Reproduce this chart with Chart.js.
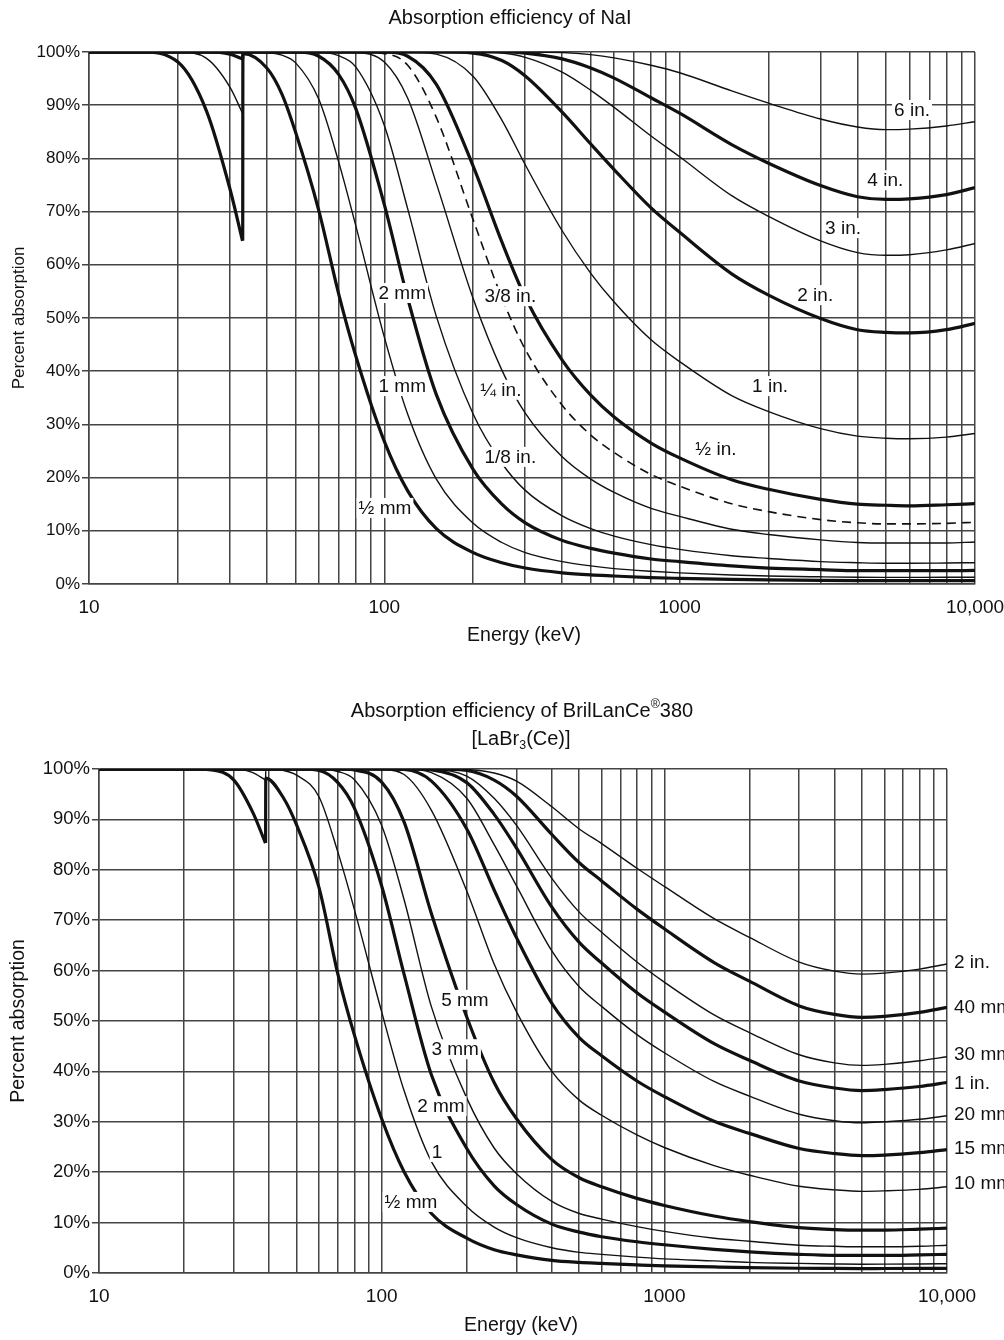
<!DOCTYPE html>
<html>
<head>
<meta charset="utf-8">
<title>Absorption efficiency of NaI and LaBr3(Ce)</title>
<script src="https://cdn.jsdelivr.net/npm/chart.js@4.4.1/dist/chart.umd.min.js"></script>
<style>
    html, body { margin: 0; padding: 0; background: #fff; }
    #wrap { position: relative; width: 1004px; height: 1340px; overflow: hidden; }
    #wrap canvas { position: absolute; left: 0; }
    #naiChart { top: 0; }
    #labrChart { top: 660px; }
</style>
</head>
<body>
<div id="wrap">
    <canvas id="naiChart" width="1004" height="660"></canvas>
    <canvas id="labrChart" width="1004" height="680"></canvas>
</div>
<script>
// Grid / tick values shared by both panels
const energyTicks = [10, 20, 30, 40, 50, 60, 70, 80, 90,
    100, 200, 300, 400, 500, 600, 700, 800, 900,
    1000, 2000, 3000, 4000, 5000, 6000, 7000, 8000, 9000, 10000];
const energyTickLabels = { 10: '10', 100: '100', 1000: '1000', 10000: '10,000' };

// ---- NaI panel: energies (keV) and percent absorption per thickness ----
// null marks the break at the iodine K-edge (33.2 keV)
const naiEnergy = [10, 15, 20, 25, 30, 33.1, 33.14, 33.15,
    33.2, 40, 45, 50, 60, 70, 80,
    100, 120, 150, 200, 250, 300, 400, 500, 600,
    800, 1000, 1500, 2000, 3000, 4000, 5000, 6000, 8000, 10000];

const naiHalfMm = [100, 100, 98.1, 88.9, 74.3, 64.5, null, 64.5,
    99.7, 97.0, 92.1, 85.0, 70.2, 54.6, 42.9,
    26.8, 17.5, 10.4, 5.9, 4.0, 3.0, 2.1, 1.7, 1.5,
    1.2, 1.06, 0.86, 0.77, 0.68, 0.64, 0.63, 0.63, 0.63, 0.64];
const naiOneMm = [100, 100, 100, 98.8, 93.4, 88.5, null, 88.5,
    100, 99.9, 99.4, 98.0, 91.1, 79.4, 67.4,
    46.4, 31.9, 19.7, 11.4, 7.8, 5.9, 4.2, 3.4, 2.9,
    2.4, 2.1, 1.7, 1.5, 1.35, 1.27, 1.25, 1.25, 1.26, 1.28];
const naiTwoMm = [100, 100, 100, 100, 99.6, 98.7, null, 98.7,
    100, 100, 100, 100, 99.2, 95.8, 89.4,
    71.3, 53.7, 35.6, 21.5, 15.0, 11.5, 8.2, 6.7, 5.8,
    4.7, 4.2, 3.4, 3.0, 2.7, 2.5, 2.5, 2.5, 2.5, 2.55];
const naiEighthIn = [100, 100, 100, 100, 100, 100, null, 100,
    100, 100, 100, 100, 100, 99.3, 97.2,
    86.2, 70.5, 50.3, 31.9, 22.7, 17.6, 12.8, 10.4, 9.0,
    7.4, 6.5, 5.3, 4.8, 4.2, 4.0, 3.9, 3.9, 3.95, 4.0];
const naiQuarterIn = [100, 100, 100, 100, 100, 100, null, 100,
    100, 100, 100, 100, 100, 100, 99.9,
    98.1, 91.3, 75.3, 53.6, 40.2, 32.1, 23.9, 19.7, 17.2,
    14.2, 12.7, 10.3, 9.3, 8.3, 7.8, 7.7, 7.7, 7.7, 7.9];
const naiThreeEighthIn = [100, 100, 100, 100, 100, 100, null, 100,
    100, 100, 100, 100, 100, 100, 100,
    99.7, 97.5, 87.7, 68.4, 53.8, 44.1, 33.6, 28.0, 24.7,
    20.6, 18.4, 15.1, 13.6, 12.1, 11.5, 11.3, 11.3, 11.4, 11.6];
const naiHalfIn = [100, 100, 100, 100, 100, 100, null, 100,
    100, 100, 100, 100, 100, 100, 100,
    100, 99.2, 93.9, 78.5, 64.3, 53.9, 42.1, 35.5, 31.4,
    26.5, 23.7, 19.6, 17.8, 15.9, 15.0, 14.8, 14.7, 14.9, 15.1];
const naiOneIn = [100, 100, 100, 100, 100, 100, null, 100,
    100, 100, 100, 100, 100, 100, 100,
    100, 100, 99.6, 95.4, 87.2, 78.8, 66.4, 58.4, 53.0,
    45.9, 41.8, 35.4, 32.4, 29.2, 27.8, 27.4, 27.3, 27.6, 28.3];
const naiTwoIn = [100, 100, 100, 100, 100, 100, null, 100,
    100, 100, 100, 100, 100, 100, 100,
    100, 100, 100, 99.8, 98.4, 95.5, 88.7, 82.7, 77.9,
    70.7, 66.1, 58.3, 54.3, 49.9, 47.8, 47.3, 47.2, 47.8, 49.0];
const naiThreeIn = [100, 100, 100, 100, 100, 100, null, 100,
    100, 100, 100, 100, 100, 100, 100,
    100, 100, 100, 100, 99.8, 99.0, 96.2, 92.8, 89.6,
    84.2, 80.3, 73.0, 69.1, 64.5, 62.3, 61.8, 61.9, 62.8, 64.0];
const naiFourIn = [100, 100, 100, 100, 100, 100, null, 100,
    100, 100, 100, 100, 100, 100, 100,
    100, 100, 100, 100, 100, 99.8, 98.7, 97.0, 95.1,
    91.4, 88.5, 82.6, 79.1, 74.9, 72.8, 72.3, 72.4, 73.2, 74.5];
const naiSixIn = [100, 100, 100, 100, 100, 100, null, 100,
    100, 100, 100, 100, 100, 100, 100,
    100, 100, 100, 100, 100, 100, 99.9, 99.5, 98.9,
    97.5, 96.1, 92.7, 90.4, 87.4, 85.9, 85.4, 85.5, 86.1, 86.9];

// ---- LaBr3(Ce) panel, break at the La K-edge (38.9 keV) ----
const labrEnergy = [10, 20, 25, 30, 35, 38.8, 38.84, 38.85,
    38.9, 45, 50, 60, 70, 80,
    100, 120, 150, 200, 250, 300, 400, 500, 600,
    800, 1000, 1500, 2000, 3000, 4000, 5000, 6000, 8000, 10000];

const labrHalfMm = [100, 100, 99.8, 97.8, 91.4, 85.3, null, 85.3,
    98.2, 94.2, 88.9, 76.5, 59.3, 47.3,
    30.6, 20.1, 11.8, 6.9, 4.6, 3.6, 2.5, 2.1, 1.9,
    1.6, 1.4, 1.2, 1.07, 0.94, 0.9, 0.88, 0.89, 0.9, 0.93];
const labrOneMm = [100, 100, 100, 100, 99.3, 97.8, null, 97.8,
    100, 99.7, 98.8, 94.5, 83.5, 72.2,
    51.8, 36.2, 22.1, 13.2, 9.1, 7.0, 5.0, 4.1, 3.7,
    3.15, 2.8, 2.4, 2.1, 1.9, 1.8, 1.75, 1.76, 1.8, 1.85];
const labrTwoMm = [100, 100, 100, 100, 100, 100, null, 100,
    100, 100, 100, 99.7, 97.3, 92.3,
    76.8, 59.3, 39.3, 24.7, 17.3, 13.6, 9.7, 8.1, 7.2,
    6.2, 5.6, 4.7, 4.2, 3.7, 3.5, 3.5, 3.5, 3.6, 3.7];
const labrThreeMm = [100, 100, 100, 100, 100, 100, null, 100,
    100, 100, 100, 100, 99.5, 97.9,
    88.8, 74.1, 52.8, 34.7, 24.8, 19.7, 14.2, 11.8, 10.7,
    9.2, 8.25, 6.9, 6.3, 5.5, 5.3, 5.2, 5.2, 5.3, 5.5];
const labrFiveMm = [100, 100, 100, 100, 100, 100, null, 100,
    100, 100, 100, 100, 100, 99.8,
    97.4, 89.5, 71.3, 50.8, 37.8, 30.6, 22.5, 18.9, 17.1,
    14.8, 13.4, 11.3, 10.2, 9.0, 8.6, 8.5, 8.5, 8.7, 8.9];
const labrTenMm = [100, 100, 100, 100, 100, 100, null, 100,
    100, 100, 100, 100, 100, 100,
    99.9, 98.9, 91.8, 75.8, 61.3, 51.8, 40.0, 34.3, 31.3,
    27.4, 24.9, 21.3, 19.4, 17.2, 16.5, 16.2, 16.3, 16.6, 17.1];
const labrFifteenMm = [100, 100, 100, 100, 100, 100, null, 100,
    100, 100, 100, 100, 100, 100,
    100, 99.9, 97.6, 88.1, 76.0, 66.5, 53.5, 46.7, 43.1,
    38.1, 35.0, 30.1, 27.7, 24.7, 23.7, 23.3, 23.4, 23.9, 24.5];
const labrTwentyMm = [100, 100, 100, 100, 100, 100, null, 100,
    100, 100, 100, 100, 100, 100,
    100, 100, 99.3, 94.2, 85.0, 76.8, 63.9, 56.8, 52.9,
    47.3, 43.7, 38.0, 35.1, 31.5, 30.2, 29.8, 30.0, 30.5, 31.2];
const labrOneIn = [100, 100, 100, 100, 100, 100, null, 100,
    100, 100, 100, 100, 100, 100,
    100, 100, 99.8, 97.3, 91.0, 84.3, 72.6, 65.6, 61.5,
    55.6, 51.8, 45.5, 42.2, 38.1, 36.7, 36.2, 36.4, 37.0, 37.8];
const labrThirtyMm = [100, 100, 100, 100, 100, 100, null, 100,
    100, 100, 100, 100, 100, 100,
    100, 100, 99.9, 98.6, 94.2, 88.8, 78.3, 71.6, 67.6,
    61.7, 57.7, 51.2, 47.7, 43.3, 41.7, 41.2, 41.4, 42.1, 42.9];
const labrFortyMm = [100, 100, 100, 100, 100, 100, null, 100,
    100, 100, 100, 100, 100, 100,
    100, 100, 100, 99.7, 97.8, 94.6, 87.0, 81.4, 77.8,
    72.2, 68.3, 61.6, 57.9, 53.0, 51.3, 50.7, 50.9, 51.7, 52.7];
const labrTwoIn = [100, 100, 100, 100, 100, 100, null, 100,
    100, 100, 100, 100, 100, 100,
    100, 100, 100, 99.9, 99.2, 97.6, 92.5, 88.1, 85.2,
    80.3, 76.7, 70.3, 66.6, 61.7, 59.9, 59.3, 59.5, 60.3, 61.3];

const INK = '#111';
const GRID = '#444';
const FAMILY = '"Liberation Sans", Arial, Helvetica, sans-serif';

function makeSeries(energy, values, label, style) {
    return {
        label: label,
        data: energy.map((e, i) => ({ x: e, y: values[i] })),
        borderColor: INK,
        borderWidth: style === 'thick' ? 3.2 : (style === 'dashed' ? 1.6 : 1.4),
        borderDash: style === 'dashed' ? [9, 6] : [],
        pointRadius: 0,
        fill: false,
        spanGaps: false,
        cubicInterpolationMode: 'monotone'
    };
}

// text with optional superscript / subscript pieces, centred on cx
function drawRich(ctx, parts, cx, cy, size) {
    const small = size * 0.62;
    const widths = parts.map(([t, mode]) => {
        ctx.font = (mode ? small : size) + 'px ' + FAMILY;
        return ctx.measureText(t).width;
    });
    let x = cx - widths.reduce((a, b) => a + b, 0) / 2;
    parts.forEach(([t, mode], i) => {
        ctx.font = (mode ? small : size) + 'px ' + FAMILY;
        const dy = mode === 'sup' ? -size * 0.33 : (mode === 'sub' ? size * 0.32 : 0);
        ctx.fillText(t, x, cy + dy);
        x += widths[i];
    });
}

function makeTextPlugin(texts) {
    return {
        id: 'paperText',
        afterDatasetsDraw(chart) {
            const ctx = chart.ctx;
            const xs = chart.scales.x;
            const ys = chart.scales.y;
            const half = Math.round(texts.labelSize / 2);
            ctx.save();
            ctx.textBaseline = 'middle';
            ctx.font = texts.labelSize + 'px ' + FAMILY;

            // labels sitting on the curves, with a white box that breaks the lines
            texts.curveLabels.forEach(lab => {
                const x = xs.getPixelForValue(lab.e);
                const y = ys.getPixelForValue(lab.p);
                const w = ctx.measureText(lab.text).width;
                ctx.fillStyle = '#fff';
                ctx.fillRect(x - w / 2 - 2, y - half, w + 4, half * 2);
                ctx.fillStyle = INK;
                ctx.textAlign = 'center';
                ctx.fillText(lab.text, x, y + 1);
            });

            // labels right of the plot
            ctx.textAlign = 'left';
            ctx.fillStyle = INK;
            (texts.sideLabels || []).forEach(lab => {
                ctx.fillText(lab.text, chart.chartArea.right + 7, ys.getPixelForValue(lab.p) + 1);
            });

            texts.titles.forEach(line => drawRich(ctx, line.parts, line.x, line.y, texts.titleSize));

            ctx.textAlign = 'center';
            ctx.font = texts.xTitleSize + 'px ' + FAMILY;
            ctx.fillText('Energy (keV)', texts.xTitle.x, texts.xTitle.y);
            ctx.font = texts.yTitleSize + 'px ' + FAMILY;
            ctx.translate(texts.yTitle.x, texts.yTitle.y);
            ctx.rotate(-Math.PI / 2);
            ctx.fillText('Percent absorption', 0, 0);
            ctx.restore();
        }
    };
}

function buildChart(canvasId, frame, datasets, texts) {
    const canvas = document.getElementById(canvasId);
    const W = canvas.width;
    const H = canvas.height;
    return new Chart(canvas.getContext('2d'), {
        type: 'line',
        data: { datasets: datasets },
        options: {
            responsive: false,
            animation: false,
            layout: { padding: { left: 0, top: frame.top, right: W - frame.right, bottom: 0 } },
            plugins: {
                legend: { display: false },
                tooltip: { enabled: false }
            },
            scales: {
                x: {
                    type: 'logarithmic',
                    min: 10,
                    max: 10000,
                    afterBuildTicks: axis => { axis.ticks = energyTicks.map(v => ({ value: v })); },
                    afterFit: axis => {
                        axis.height = H - frame.bottom;
                        axis.paddingLeft = 0;
                        axis.paddingRight = 0;
                    },
                    ticks: {
                        autoSkip: false,
                        maxRotation: 0,
                        padding: texts.xTickPad,
                        color: INK,
                        font: { family: FAMILY, size: texts.xTickSize },
                        callback: v => energyTickLabels[Math.round(v)] || ''
                    },
                    grid: { color: GRID, lineWidth: 1.5, drawTicks: false },
                    border: { display: true, color: GRID, width: 1.5 }
                },
                y: {
                    min: 0,
                    max: 100,
                    afterFit: axis => {
                        axis.width = frame.left;
                        axis.paddingTop = 0;
                        axis.paddingBottom = 0;
                    },
                    ticks: {
                        stepSize: 10,
                        padding: 2,
                        color: INK,
                        font: { family: FAMILY, size: texts.yTickSize },
                        callback: v => v + '%'
                    },
                    grid: { color: GRID, lineWidth: 1.5, tickLength: 7 },
                    border: { display: true, color: GRID, width: 1.5 }
                }
            }
        },
        plugins: [makeTextPlugin(texts)]
    });
}

const naiSeries = [
    makeSeries(naiEnergy, naiHalfMm, '1/2 mm', 'thick'),
    makeSeries(naiEnergy, naiOneMm, '1 mm', 'thin'),
    makeSeries(naiEnergy, naiTwoMm, '2 mm', 'thick'),
    makeSeries(naiEnergy, naiEighthIn, '1/8 in.', 'thin'),
    makeSeries(naiEnergy, naiQuarterIn, '1/4 in.', 'thin'),
    makeSeries(naiEnergy, naiThreeEighthIn, '3/8 in.', 'dashed'),
    makeSeries(naiEnergy, naiHalfIn, '1/2 in.', 'thick'),
    makeSeries(naiEnergy, naiOneIn, '1 in.', 'thin'),
    makeSeries(naiEnergy, naiTwoIn, '2 in.', 'thick'),
    makeSeries(naiEnergy, naiThreeIn, '3 in.', 'thin'),
    makeSeries(naiEnergy, naiFourIn, '4 in.', 'thick'),
    makeSeries(naiEnergy, naiSixIn, '6 in.', 'thin')
];

const labrSeries = [
    makeSeries(labrEnergy, labrHalfMm, '1/2 mm', 'thick'),
    makeSeries(labrEnergy, labrOneMm, '1 mm', 'thin'),
    makeSeries(labrEnergy, labrTwoMm, '2 mm', 'thick'),
    makeSeries(labrEnergy, labrThreeMm, '3 mm', 'thin'),
    makeSeries(labrEnergy, labrFiveMm, '5 mm', 'thick'),
    makeSeries(labrEnergy, labrTenMm, '10 mm', 'thin'),
    makeSeries(labrEnergy, labrFifteenMm, '15 mm', 'thick'),
    makeSeries(labrEnergy, labrTwentyMm, '20 mm', 'thin'),
    makeSeries(labrEnergy, labrOneIn, '1 in.', 'thick'),
    makeSeries(labrEnergy, labrThirtyMm, '30 mm', 'thin'),
    makeSeries(labrEnergy, labrFortyMm, '40 mm', 'thick'),
    makeSeries(labrEnergy, labrTwoIn, '2 in.', 'thin')
];

buildChart('naiChart', { left: 89, right: 975, top: 52, bottom: 584 }, naiSeries, {
    xTickSize: 19, yTickSize: 17, labelSize: 19, titleSize: 20, xTitleSize: 19.5, yTitleSize: 17,
    xTickPad: 12,
    titles: [{ x: 510, y: 18, parts: [['Absorption efficiency of NaI', '']] }],
    xTitle: { x: 524, y: 636 },
    yTitle: { x: 19, y: 318 },
    curveLabels: [
        { text: '6 in.', e: 6120, p: 89.1 },
        { text: '4 in.', e: 4970, p: 75.9 },
        { text: '3 in.', e: 3575, p: 66.9 },
        { text: '2 in.', e: 2877, p: 54.3 },
        { text: '1 in.', e: 2023, p: 37.2 },
        { text: '½ in.', e: 1327, p: 25.4 },
        { text: '3/8 in.', e: 267, p: 54.1 },
        { text: '¼ in.', e: 248, p: 36.5 },
        { text: '1/8 in.', e: 267, p: 23.9 },
        { text: '2 mm', e: 115, p: 54.7 },
        { text: '1 mm', e: 115, p: 37.2 },
        { text: '½ mm', e: 100.5, p: 14.3 }
    ]
});

buildChart('labrChart', { left: 99, right: 947, top: 109, bottom: 613 }, labrSeries, {
    xTickSize: 19, yTickSize: 18.5, labelSize: 19, titleSize: 20, xTitleSize: 19.5, yTitleSize: 19.5,
    xTickPad: 12,
    titles: [
        { x: 522, y: 51, parts: [['Absorption efficiency of BrilLanCe', ''], ['®', 'sup'], ['380', '']] },
        { x: 521, y: 79, parts: [['[LaBr', ''], ['3', 'sub'], ['(Ce)]', '']] }
    ],
    xTitle: { x: 521, y: 666 },
    yTitle: { x: 19, y: 361 },
    curveLabels: [
        { text: '5 mm', e: 197, p: 54.2 },
        { text: '3 mm', e: 182, p: 44.4 },
        { text: '2 mm', e: 162, p: 33.1 },
        { text: '1', e: 157, p: 24.0 },
        { text: '½ mm', e: 127, p: 14.1 }
    ],
    sideLabels: [
        { text: '2 in.', p: 61.7 },
        { text: '40 mm', p: 52.8 },
        { text: '30 mm', p: 43.5 },
        { text: '1 in.', p: 37.7 },
        { text: '20 mm', p: 31.5 },
        { text: '15 mm', p: 24.8 },
        { text: '10 mm', p: 17.9 }
    ]
});
</script>
</body>
</html>
